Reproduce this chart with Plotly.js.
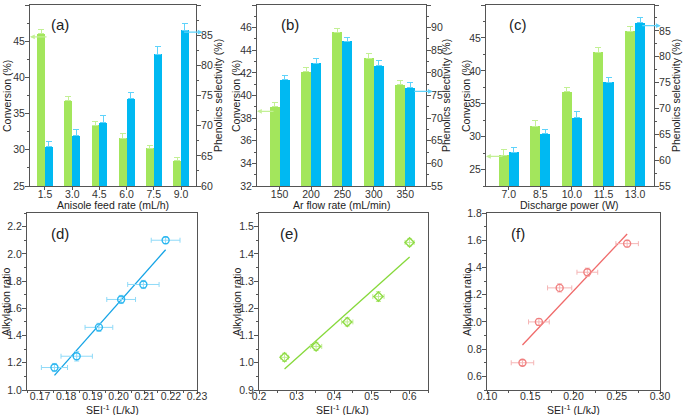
<!DOCTYPE html>
<html><head><meta charset="utf-8">
<script src="https://cdn.plot.ly/plotly-3.0.1.min.js"></script>
<style>html,body{margin:0;padding:0;background:#fff}#chart{width:684px;height:415px}</style>
</head><body><div id="chart"></div>
<script>
// ---- data ----
const catsA = ['1.5','3.0','4.5','6.0','7.5','9.0'];
const convA = [46.0, 36.8, 33.4, 31.6, 30.2, 28.5];
const convErrA = [0.6, 0.5, 0.5, 0.6, 0.45, 0.4];
const selA = [66.5, 68.3, 70.5, 74.5, 81.8, 85.8];
const selErrA = [0.9, 1.1, 1.2, 1.0, 1.3, 1.2];

const catsB = ['150','200','250','300','350'];
const convB = [39.0, 42.1, 45.6, 43.3, 40.95];
const convErrB = [0.35, 0.4, 0.3, 0.45, 0.4];
const selB = [78.5, 82.1, 87.0, 81.6, 76.7];
const selErrB = [1.0, 1.0, 0.8, 1.2, 1.2];

const catsC = ['7.0','8.5','10.0','11.5','13.0'];
const convC = [27.2, 31.6, 36.8, 42.8, 46.0];
const convErrC = [0.8, 0.8, 0.6, 0.7, 0.7];
const selC = [61.5, 65.1, 68.2, 75.1, 86.6];
const selErrC = [1.0, 0.9, 1.2, 0.9, 0.9];

const xD = [0.1755, 0.184, 0.1925, 0.201, 0.2095, 0.218];
const yD = [1.165, 1.248, 1.46, 1.665, 1.775, 2.10];
const xErrD = [0.005, 0.006, 0.0053, 0.0055, 0.006, 0.0055];
const yErrD = [0.03, 0.035, 0.03, 0.03, 0.03, 0.025];

const xE = [0.268, 0.352, 0.435, 0.518, 0.601];
const yE = [1.02, 1.06, 1.15, 1.243, 1.442];
const xErrE = [0.01, 0.015, 0.015, 0.015, 0.012];
const yErrE = [0.015, 0.015, 0.015, 0.018, 0.013];

const xF = [0.141, 0.160, 0.184, 0.216, 0.262];
const yF = [0.70, 1.00, 1.25, 1.365, 1.575];
const xErrF = [0.013, 0.012, 0.014, 0.012, 0.013];
const yErrF = [0.02, 0.025, 0.03, 0.03, 0.025];

const xTitles = ['Anisole feed rate (mL/h)', 'Ar flow rate (mL/min)', 'Discharge power (W)',
                 'SEI<sup>-1</sup> (L/kJ)', 'SEI<sup>-1</sup> (L/kJ)', 'SEI<sup>-1</sup> (L/kJ)'];
const yTitleL = 'Conversion (%)', yTitleR = 'Phenolics selectivity (%)', yTitleS = 'Alkylation ratio';
const panelLabels = ['(a)','(b)','(c)','(d)','(e)','(f)'];

// ---- styles ----
const GREEN = '#a3e65c', BLUE = '#00b9f2';
const GREEN_E = '#c3f095', BLUE_E = '#5fd3fb';
const AX = '#555555';
const FONT = 'Liberation Sans, Arial, sans-serif';
const W = 684, H = 415;
function dx(a,b){return [a/W, b/W];}
function dy(a,b){return [(H-b)/H, (H-a)/H];}
function zeros(n){return new Array(n).fill(0);}
function fit(xs, ys){
  const n=xs.length, mx=xs.reduce((s,v)=>s+v,0)/n, my=ys.reduce((s,v)=>s+v,0)/n;
  let sxy=0,sxx=0; for(let i=0;i<n;i++){sxy+=(xs[i]-mx)*(ys[i]-my); sxx+=(xs[i]-mx)**2;}
  const k=sxy/sxx, b=my-k*mx; const x0=Math.min(...xs), x1=Math.max(...xs);
  return {x:[x0,x1], y:[k*x0+b, k*x1+b]};
}

const traces = [];
function bars(cats, conv, convErr, sel, selErr, xa, ya, ya2, w){
  traces.push({type:'bar', x:cats, y:conv, xaxis:xa, yaxis:ya, width:w, offset:-w,
    marker:{color:GREEN, line:{width:0}},
    error_y:{type:'data', array:convErr, arrayminus:zeros(conv.length), color:GREEN_E, thickness:1, width:3}});
  traces.push({type:'bar', x:cats, y:sel, xaxis:xa, yaxis:ya2, width:w, offset:0,
    marker:{color:BLUE, line:{width:0}},
    error_y:{type:'data', array:selErr, arrayminus:zeros(sel.length), color:BLUE_E, thickness:1, width:3}});
}
bars(catsA, convA, convErrA, selA, selErrA, 'x', 'y', 'y2', 0.29);
bars(catsB, convB, convErrB, selB, selErrB, 'x2', 'y3', 'y4', 0.32);
bars(catsC, convC, convErrC, selC, selErrC, 'x3', 'y5', 'y6', 0.32);

function scat(xs, ys, xe, ye, xa, ya, sym, mcol, ecol, lcol){
  const f = fit(xs, ys);
  traces.push({type:'scatter', mode:'lines', x:f.x, y:f.y, xaxis:xa, yaxis:ya,
    line:{color:lcol, width:1.3}, hoverinfo:'skip'});
  traces.push({type:'scatter', mode:'markers', x:xs, y:ys, xaxis:xa, yaxis:ya,
    marker:{symbol:sym, size:7, color:mcol, line:{color:mcol, width:1.4}},
    error_x:{type:'data', array:xe, color:ecol, thickness:1, width:2.5},
    error_y:{type:'data', array:ye, color:ecol, thickness:1, width:2.5}});
}
scat(xD, yD, xErrD, yErrD, 'x4', 'y7', 'circle-open', '#29b6f0', '#8fdaf8', '#14a4e6');
scat(xE, yE, xErrE, yErrE, 'x5', 'y8', 'diamond-open', '#8fdc45', '#bfec90', '#86d93a');
scat(xF, yF, xErrF, yErrF, 'x6', 'y9', 'circle-open', '#f07f7f', '#f5b5b5', '#f06a6a');

const tickfont = {family:FONT, size:10.5, color:'#333'};
function xcat(dom, range, anchor){
  return {domain:dom, anchor:anchor, type:'category', range:range, showline:true, linecolor:AX, linewidth:1,
    mirror:true, ticks:'outside', ticklen:3, tickcolor:AX, showgrid:false, zeroline:false, tickfont:tickfont,
    ticklabelstandoff:-5};
}
function ylin(dom, range, dtick, anchor, side, overlay, minorD){
  const o = {domain:dom, anchor:anchor, range:range, dtick:dtick, showline:true, linecolor:AX, linewidth:1,
    ticks:'outside', ticklen:4, tickcolor:AX, showgrid:false, zeroline:false, tickfont:tickfont,
    side:side||'left', ticklabelstandoff:-2, minor:{ticks:'outside', ticklen:2, tickcolor:AX, dtick:minorD}};
  if(overlay){o.overlaying=overlay;}
  return o;
}
function xlin(dom, range, dtick, anchor, fmt, minorD){
  return {domain:dom, anchor:anchor, range:range, dtick:dtick, showline:true, linecolor:AX, linewidth:1, mirror:true,
    ticks:'outside', ticklen:3, tickcolor:AX, showgrid:false, zeroline:false, tickfont:tickfont, tickformat:fmt,
    ticklabelstandoff:-7, minor:{ticks:'outside', ticklen:2, tickcolor:AX, dtick:minorD}};
}

const rowT = dy(5,186), rowB = dy(213,390);
const layout = {
  width:W, height:H, margin:{l:0,r:0,t:0,b:0}, showlegend:false,
  paper_bgcolor:'#fff', plot_bgcolor:'rgba(0,0,0,0)', font:{family:FONT},
  bargap:0, barmode:'overlay',
  xaxis: xcat(dx(30,196), [-0.55,5.55], 'y'),
  yaxis: ylin(rowT, [25,50], 5, 'x', 'left', null, 2.5),
  yaxis2: ylin(rowT, [60,90], 5, 'x', 'right', 'y', 2.5),
  xaxis2: xcat(dx(257,426), [-0.72,4.66], 'y3'),
  yaxis3: ylin(rowT, [32,48], 2, 'x2', 'left', null, 1),
  yaxis4: ylin(rowT, [55,95], 5, 'x2', 'right', 'y3', 2.5),
  xaxis3: xcat(dx(486,654), [-0.72,4.6], 'y5'),
  yaxis5: ylin(rowT, [22.5,50], 5, 'x3', 'left', null, 2.5),
  yaxis6: ylin(rowT, [55,90], 5, 'x3', 'right', 'y5', 2.5),
  xaxis4: xlin(dx(27,197), [0.165,0.23], 0.01, 'y7', '.2f', 0.005),
  yaxis7: Object.assign(ylin(rowB, [1.0,2.3], 0.2, 'x4', 'left', null, 0.1), {mirror:true, tickformat:'.1f'}),
  xaxis5: xlin(dx(259,428), [0.2,0.65], 0.1, 'y8', '.1f', 0.05),
  yaxis8: Object.assign(ylin(rowB, [0.9,1.55], 0.1, 'x5', 'left', null, 0.05), {mirror:true, tickformat:'.1f'}),
  xaxis6: xlin(dx(487,660), [0.1,0.3], 0.05, 'y9', '.2f', 0.025),
  yaxis9: Object.assign(ylin(rowB, [0.5,1.8], 0.2, 'x6', 'left', null, 0.1), {mirror:true, tickformat:'.1f', tick0:0.6}),
  annotations: []
};

function txt(t, px, py, size, angle){
  layout.annotations.push({text:t, xref:'paper', yref:'paper', x:px/W, y:(H-py)/H, showarrow:false,
    font:{family:FONT, size:size, color:'#222'}, xanchor:'center', yanchor:'middle', textangle:angle||0});
}
const lblPos = [[60,24],[290,24],[518,24],[60,233],[289,233],[518,233]];
panelLabels.forEach((l,i)=>txt(l, lblPos[i][0], lblPos[i][1], 15));
const xtPos = [[113,205],[341,205],[569,205],[112,409],[342,409],[573,409]];
xTitles.forEach((t,i)=>txt(t, xtPos[i][0], xtPos[i][1], 10.5));
[[7,96],[236,96],[466,96]].forEach(p=>txt(yTitleL, p[0], p[1], 10.5, -90));
[[218,96],[446,96],[676,96]].forEach(p=>txt(yTitleR, p[0], p[1], 10.5, -90));
[[6,302],[237,302],[467,302]].forEach(p=>txt(yTitleS, p[0], p[1], 10.5, -90));

function arrows(xa, ya, ya2, gy, by){
  layout.annotations.push({text:'', xref:xa+' domain', yref:ya, x:0, y:gy, ax:18, ay:0,
    showarrow:true, arrowhead:2, arrowsize:0.8, arrowwidth:1.2, arrowcolor:GREEN_E});
  layout.annotations.push({text:'', xref:xa+' domain', yref:ya2, x:1.04, y:by, ax:-20, ay:0,
    showarrow:true, arrowhead:2, arrowsize:0.8, arrowwidth:1.2, arrowcolor:BLUE_E});
}
arrows('x', 'y', 'y2', convA[0]-0.4, selA[selA.length-1]-0.3);
arrows('x2', 'y3', 'y4', convB[0]-0.4, selB[selB.length-1]-0.8);
arrows('x3', 'y5', 'y6', convC[0]-0.2, selC[selC.length-1]-0.6);

Plotly.newPlot('chart', traces, layout, {staticPlot:true, displayModeBar:false});
</script></body></html>
